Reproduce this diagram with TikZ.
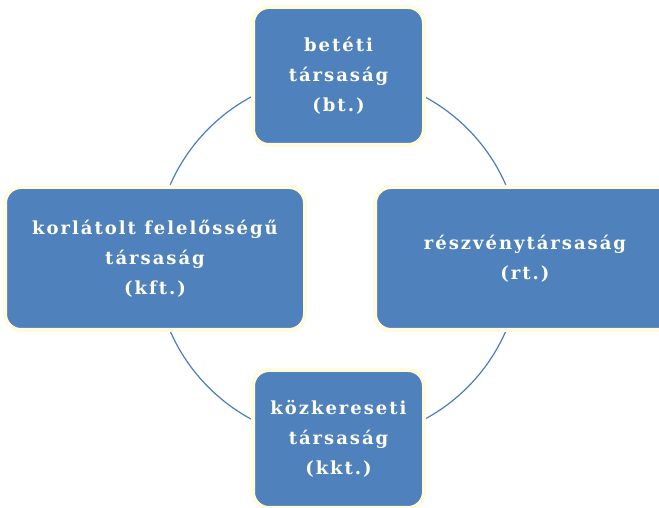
\documentclass[tikz,border=0pt]{standalone}
\usepackage{fontspec}
\newfontfamily\boxfont[LetterSpace=11]{DejaVu Serif}
\usetikzlibrary{
    positioning
}
\definecolor{boxblue}{HTML}{4F81BD}
\definecolor{ringblue}{HTML}{4A7EBB}
\definecolor{edgecream}{HTML}{FFFBDC}
\definecolor{textcream}{HTML}{FFFFF0}
\tikzset {
    form/.style = {
        rectangle, rounded corners = 16pt,
        fill = boxblue, draw = edgecream, line width = 4pt,
        text = textcream, align = center,
        font = \boxfont\bfseries\fontsize{18}{30}\selectfont
    },
    small form/.style = {form, minimum width = 171pt, minimum height = 138pt},
    wide form/.style = {form, minimum width = 300pt, minimum height = 143pt},
    ring/.style = {draw = ringblue, line width = 1.2pt}
}
\begin{document}
\begin{tikzpicture}[x = 1pt, y = 1pt]
    \useasboundingbox (0, 0) rectangle (659, 508);
    \coordinate (c) at (338, 250);
    \draw [ring] (c) circle [radius = 183pt];
    \node (bt) [small form] at (338.5, 432) {betéti\\társaság\\(bt.)};
    \node (kft) [wide form] at (155, 249.5) {korlátolt felelősségű\\társaság\\(kft.)};
    \node (rt) [wide form] at (525, 249.5) {részvénytársaság\\(rt.)};
    \node (kkt) [small form] at (338.5, 69) {közkereseti\\társaság\\(kkt.)};
\end{tikzpicture}
\end{document}
